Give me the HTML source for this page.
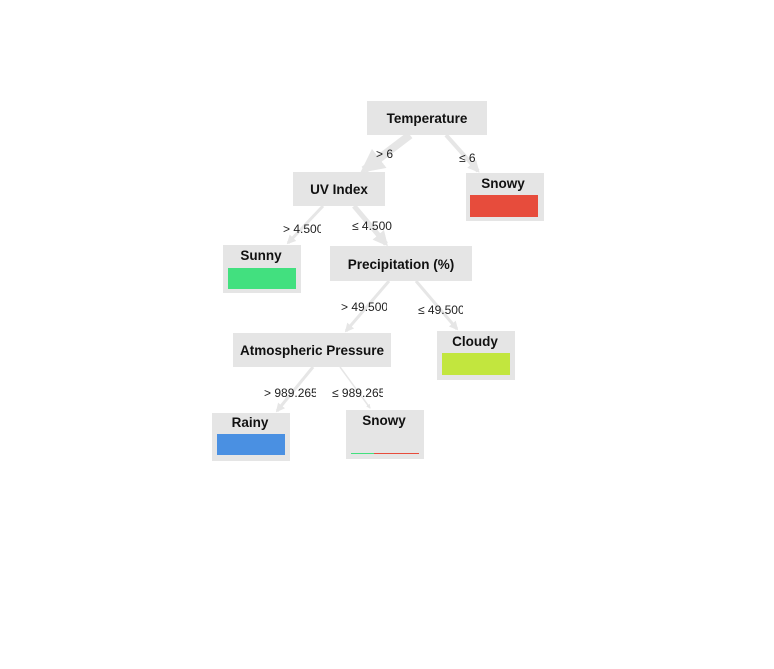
<!DOCTYPE html>
<html><head><meta charset="utf-8"><style>
html,body{margin:0;padding:0;background:#fff;width:774px;height:669px;overflow:hidden}
svg{display:block;font-family:"Liberation Sans",Arial,sans-serif}
.n{fill:#e5e5e5}
.t{font-weight:bold;font-size:13.5px;fill:#111;text-anchor:middle}
.l{font-size:12px;fill:#222}
.e{stroke:#e6e6e6;fill:none;stroke-linecap:butt}
</style></head><body>
<svg width="774" height="669" viewBox="0 0 774 669">
<defs>
<marker id="a" viewBox="0 0 10 10" refX="8" refY="5" markerWidth="3" markerHeight="3" orient="auto"><path d="M0,0L10,5L0,10z" fill="#e6e6e6"/></marker>
<clipPath id="c1"><rect x="0" y="0" width="321" height="669"/></clipPath>
<clipPath id="c2"><rect x="0" y="0" width="392" height="669"/></clipPath>
<clipPath id="c3"><rect x="0" y="0" width="387" height="669"/></clipPath>
<clipPath id="c4"><rect x="0" y="0" width="463" height="669"/></clipPath>
<clipPath id="c5"><rect x="0" y="0" width="316" height="669"/></clipPath>
<clipPath id="c6"><rect x="0" y="0" width="383" height="669"/></clipPath>
</defs>
<path class="e" d="M410,135 L364,170" stroke-width="8" marker-end="url(#a)"/>
<path class="e" d="M446,135 L478,171" stroke-width="4" marker-end="url(#a)"/>
<path class="e" d="M323,206 L288,243" stroke-width="3" marker-end="url(#a)"/>
<path class="e" d="M354,206 L386,244" stroke-width="5" marker-end="url(#a)"/>
<path class="e" d="M389,281 L346,331" stroke-width="3" marker-end="url(#a)"/>
<path class="e" d="M416,281 L457,329" stroke-width="3" marker-end="url(#a)"/>
<path class="e" d="M313,367 L277,411" stroke-width="3" marker-end="url(#a)"/>
<path class="e" d="M340,367 L370,408" stroke-width="1.5" marker-end="url(#a)"/>

<rect class="n" x="367" y="101" width="120" height="34"/><text class="t" x="427" y="123">Temperature</text>
<rect class="n" x="293" y="172" width="92" height="34"/><text class="t" x="339" y="194">UV Index</text>
<rect class="n" x="466" y="173" width="78" height="48"/><text class="t" x="503" y="188">Snowy</text>
<rect x="470" y="195" width="68" height="22" fill="#e74c3c"/>
<rect class="n" x="223" y="245" width="78" height="48"/><text class="t" x="261" y="260">Sunny</text>
<rect x="228" y="268" width="68" height="21" fill="#42e07f"/>
<rect class="n" x="330" y="246" width="142" height="35"/><text class="t" x="401" y="269">Precipitation (%)</text>
<rect class="n" x="233" y="333" width="158" height="34"/><text class="t" x="312" y="355">Atmospheric Pressure</text>
<rect class="n" x="437" y="331" width="78" height="49"/><text class="t" x="475" y="346">Cloudy</text>
<rect x="442" y="353" width="68" height="22" fill="#c2e63e"/>
<rect class="n" x="212" y="413" width="78" height="48"/><text class="t" x="250" y="427">Rainy</text>
<rect x="217" y="434" width="68" height="21" fill="#4a90e2"/>
<rect class="n" x="346" y="410" width="78" height="49"/><text class="t" x="384" y="425">Snowy</text>
<rect x="351" y="453" width="23" height="1" fill="#42e07f"/><rect x="374" y="453" width="45" height="1" fill="#e74c3c"/>

<text class="l" x="376" y="158">&gt; 6</text>
<text class="l" x="459" y="162">≤ 6</text>
<text class="l" x="283" y="233" clip-path="url(#c1)">&gt; 4.500</text>
<text class="l" x="352" y="230" clip-path="url(#c2)">≤ 4.500</text>
<text class="l" x="341" y="311" clip-path="url(#c3)">&gt; 49.500</text>
<text class="l" x="418" y="314" clip-path="url(#c4)">≤ 49.500</text>
<text class="l" x="264" y="397" clip-path="url(#c5)">&gt; 989.265</text>
<text class="l" x="332" y="397" clip-path="url(#c6)">≤ 989.265</text>
</svg>
</body></html>
